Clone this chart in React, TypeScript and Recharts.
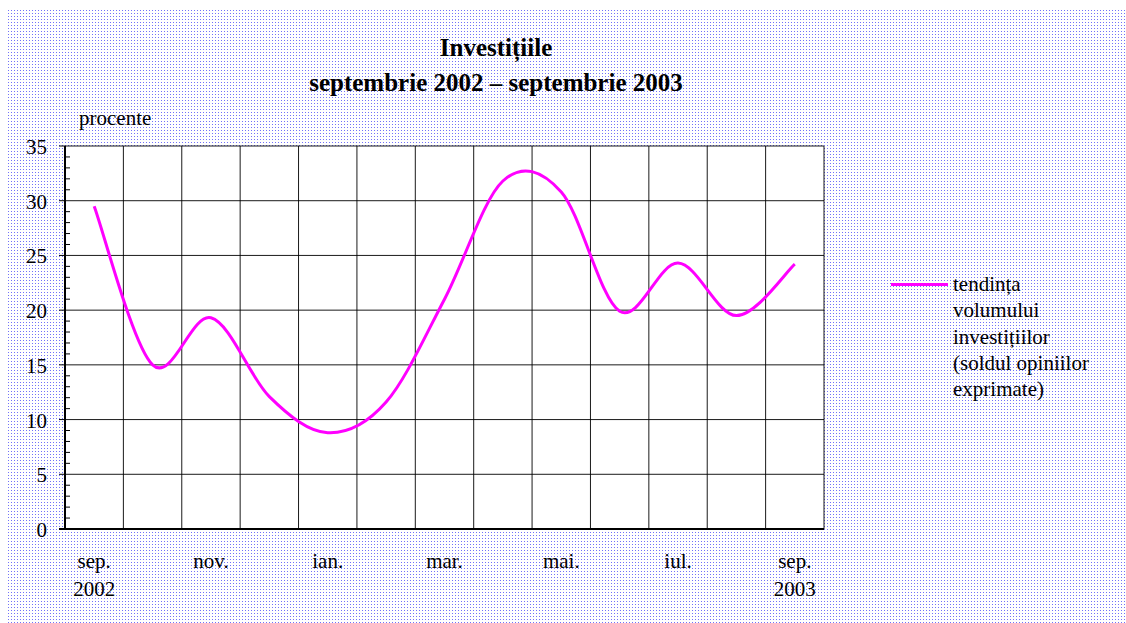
import { LineChart, Line, XAxis, YAxis, CartesianGrid } from 'recharts'

// monthly values, sep 2002 .. sep 2003
const months = ['sep.', 'oct.', 'nov.', 'dec.', 'ian.', 'feb.', 'mar.', 'apr.', 'mai.', 'iun.', 'iul.', 'aug.', 'sep.']
const values = [29.5, 15.0, 19.3, 12.1, 8.8, 11.6, 21.0, 31.8, 30.8, 19.9, 24.3, 19.5, 24.2]
const years: Record<number, string> = { 0: '2002', 12: '2003' }
const xTicks = [0, 2, 4, 6, 8, 10, 12]
const yTicks = [0, 1, 2, 3, 4, 5, 6, 7, 8, 9, 10, 11, 12, 13, 14, 15, 16, 17, 18, 19, 20, 21, 22, 23, 24, 25, 26, 27, 28, 29, 30, 31, 32, 33, 34, 35]
const gridY = [5, 10, 15, 20, 25, 30, 35]
const gridX = [0.5, 1.5, 2.5, 3.5, 4.5, 5.5, 6.5, 7.5, 8.5, 9.5, 10.5, 11.5, 12.5]
const titleLines = ['Investițiile', 'septembrie 2002 – septembrie 2003']
const legendLines = ['tendința', 'volumului', 'investițiilor', '(soldul opiniilor', 'exprimate)']

const data = months.map((m, i) => ({ idx: i, month: m, val: values[i] }))

const FONT = '"Liberation Serif", "Times New Roman", serif'
const PATTERN =
  "url(\"data:image/svg+xml,%3Csvg xmlns='http://www.w3.org/2000/svg' width='3' height='3'%3E%3Crect width='1' height='1' fill='%237272f8'/%3E%3C/svg%3E\")"

// Excel-like smoothed line (Catmull-Rom through the points)
function excelSmooth(context: any) {
  let pts: number[][] = []
  return {
    areaStart() {},
    areaEnd() {},
    lineStart() {
      pts = []
    },
    point(x: number, y: number) {
      pts.push([+x, +y])
    },
    lineEnd() {
      const n = pts.length
      if (!n) return
      context.moveTo(pts[0][0], pts[0][1])
      for (let i = 0; i < n - 1; i++) {
        const p0 = pts[Math.max(i - 1, 0)]
        const p1 = pts[i]
        const p2 = pts[i + 1]
        const p3 = pts[Math.min(i + 2, n - 1)]
        context.bezierCurveTo(
          p1[0] + (p2[0] - p0[0]) / 6,
          p1[1] + (p2[1] - p0[1]) / 6,
          p2[0] - (p3[0] - p1[0]) / 6,
          p2[1] - (p3[1] - p1[1]) / 6,
          p2[0],
          p2[1]
        )
      }
    },
  }
}

function YTick({ x, y, payload }: any) {
  const v = payload.value
  const major = v % 5 === 0
  return (
    <g>
      {major ? (
        <>
          <line x1={x - 6} x2={x} y1={y} y2={y} stroke="#000" strokeWidth={v === 0 ? 2 : 1} />
          <text x={x - 18} y={y + 8} textAnchor="end" fontSize={21} fontFamily={FONT} fill="#000">
            {v}
          </text>
        </>
      ) : (
        <line x1={x} x2={x + 5} y1={y} y2={y} stroke="#000" strokeWidth={1} />
      )}
    </g>
  )
}

function XTick({ x, y, payload }: any) {
  const i = payload.value
  return (
    <g>
      <text x={x} y={y + 39} textAnchor="middle" fontSize={21} fontFamily={FONT} fill="#000">
        {months[i]}
      </text>
      {years[i] && (
        <text x={x} y={y + 67} textAnchor="middle" fontSize={21} fontFamily={FONT} fill="#000">
          {years[i]}
        </text>
      )}
    </g>
  )
}

export default function App() {
  return (
    <div style={{ position: 'absolute', left: 0, top: 0, width: 1126, height: 623, background: '#fff', overflow: 'hidden' }}>
      <div style={{ position: 'absolute', left: 8, top: 10, right: 0, bottom: 0, backgroundImage: PATTERN }} />

      <div
        style={{
          position: 'absolute',
          left: 0,
          width: 992,
          top: 30,
          textAlign: 'center',
          fontFamily: FONT,
          fontWeight: 'bold',
          fontSize: 25,
          lineHeight: '35px',
          color: '#000',
        }}
      >
        {titleLines.map((t) => (
          <div key={t}>{t}</div>
        ))}
      </div>

      <div style={{ position: 'absolute', left: 79, top: 106, fontFamily: FONT, fontSize: 21, color: '#000' }}>procente</div>

      {/* legend */}
      <div style={{ position: 'absolute', left: 891, top: 271, fontFamily: FONT, fontSize: 21, lineHeight: '26.3px', color: '#000' }}>
        <div style={{ position: 'absolute', left: 0, top: 12, width: 57, height: 3, background: '#ff00ff' }} />
        <div style={{ marginLeft: 62, whiteSpace: 'nowrap' }}>
          {legendLines.map((t) => (
            <div key={t}>{t}</div>
          ))}
        </div>
      </div>

      <div style={{ position: 'absolute', left: 0, top: 0 }}>
        <LineChart width={1126} height={623} data={data} margin={{ top: 146, right: 302, bottom: 34, left: 0 }}>
          <CartesianGrid
            fill="#fff"
            stroke="#000"
            strokeOpacity={0.9}
            horizontalValues={gridY}
            verticalValues={gridX}
          />
          <XAxis
            dataKey="idx"
            type="number"
            domain={[-0.5, 12.5]}
            ticks={xTicks}
            interval={0}
            height={60}
            tickLine={false}
            tickSize={0}
            tickMargin={0}
            axisLine={{ stroke: '#000', strokeWidth: 2 }}
            tick={<XTick />}
          />
          <YAxis
            type="number"
            domain={[0, 35]}
            ticks={yTicks}
            interval={0}
            width={65}
            tickLine={false}
            tickSize={0}
            tickMargin={0}
            axisLine={{ stroke: '#000', strokeWidth: 2 }}
            tick={<YTick />}
          />
          <Line
            dataKey="val"
            type={excelSmooth as any}
            stroke="#ff00ff"
            strokeWidth={3}
            dot={false}
            isAnimationActive={false}
          />
        </LineChart>
      </div>
    </div>
  )
}
